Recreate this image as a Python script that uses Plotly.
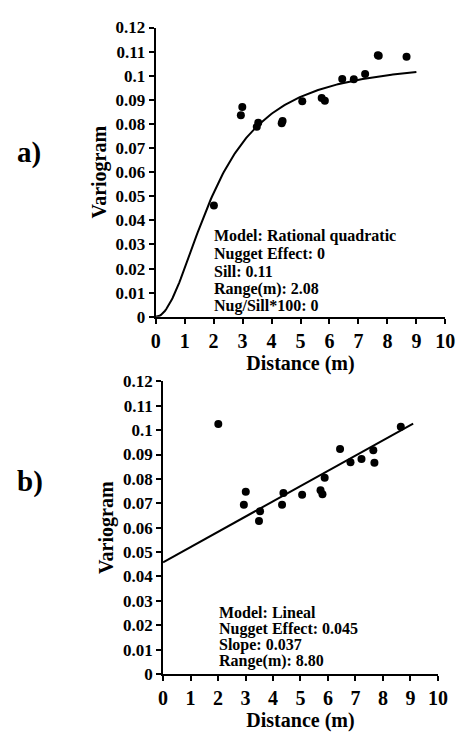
import numpy as np
import plotly.graph_objects as go

# ---- data a) ----
a_dist = [2.01, 2.94, 2.99, 3.49, 3.54, 4.35, 4.38, 5.06, 5.73, 5.84, 6.44, 6.84, 7.23, 7.67, 7.70, 8.66]
a_gamma = [0.0462, 0.0836, 0.0870, 0.0788, 0.0805, 0.0803, 0.0812, 0.0894, 0.0908, 0.0896,
           0.0986, 0.0985, 0.1007, 0.1085, 0.1083, 0.1079]
a_model_sill = 0.107
a_model_range = 2.08
a_model_xmax = 9.0
a_text = ["Model: Rational quadratic", "Nugget Effect: 0", "Sill: 0.11",
          "Range(m): 2.08", "Nug/Sill*100: 0"]

# ---- data b) ----
b_dist = [2.01, 2.94, 3.01, 3.49, 3.53, 4.33, 4.38, 5.06, 5.73, 5.80, 5.88, 6.44, 6.82, 7.22, 7.65, 7.69, 8.65]
b_gamma = [0.1025, 0.0694, 0.0747, 0.0627, 0.0667, 0.0694, 0.0742, 0.0735, 0.0754, 0.0737,
           0.0805, 0.0923, 0.0868, 0.0882, 0.0918, 0.0866, 0.1014]
b_line_x = [0.0, 9.1]
b_line_y = [0.0458, 0.1027]
b_text = ["Model: Lineal", "Nugget Effect: 0.045", "Slope: 0.037", "Range(m): 8.80"]

y_ticks = [0, 0.01, 0.02, 0.03, 0.04, 0.05, 0.06, 0.07, 0.08, 0.09, 0.1, 0.11, 0.12]
y_ticklabels = ["0", "0.01", "0.02", "0.03", "0.04", "0.05", "0.06", "0.07", "0.08", "0.09", "0.1", "0.11", "0.12"]
x_ticks = list(range(0, 11))

FONT = "Liberation Serif"
W, H = 466, 733

h = np.linspace(0, a_model_xmax, 200)
r = (h / a_model_range) ** 2
a_curve = a_model_sill * r / (1 + r)

fig = go.Figure()
fig.add_trace(go.Scatter(x=h, y=a_curve, mode="lines", line=dict(color="black", width=2),
                         xaxis="x", yaxis="y", cliponaxis=False, showlegend=False))
fig.add_trace(go.Scatter(x=a_dist, y=a_gamma, mode="markers", marker=dict(color="black", size=8),
                         xaxis="x", yaxis="y", cliponaxis=False, showlegend=False))
fig.add_trace(go.Scatter(x=b_line_x, y=b_line_y, mode="lines", line=dict(color="black", width=2),
                         xaxis="x2", yaxis="y2", cliponaxis=False, showlegend=False))
fig.add_trace(go.Scatter(x=b_dist, y=b_gamma, mode="markers", marker=dict(color="black", size=8),
                         xaxis="x2", yaxis="y2", cliponaxis=False, showlegend=False))

def xax(domain, anchor):
    return dict(domain=domain, anchor=anchor, range=[0, 10], tickvals=x_ticks,
                ticktext=["<b>%d</b>" % t for t in x_ticks],
                showline=True, linecolor="black", linewidth=2, ticks="outside", ticklen=5,
                tickwidth=2, tickcolor="black", showgrid=False, zeroline=False,
                tickfont=dict(family=FONT, size=20, color="black"),
                title=dict(text="<b>Distance (m)</b>", font=dict(family=FONT, size=20, color="black"),
                           standoff=3))

def yax(domain, anchor):
    return dict(domain=domain, anchor=anchor, range=[0, 0.12], tickvals=y_ticks,
                ticktext=["<b>%s</b>" % t for t in y_ticklabels],
                showline=True, linecolor="black", linewidth=2, ticks="outside", ticklen=5,
                tickwidth=2, tickcolor="black", showgrid=False, zeroline=False,
                tickfont=dict(family=FONT, size=17, color="black"),
                title=dict(text="<b>Variogram</b>", font=dict(family=FONT, size=20, color="black"),
                           standoff=4))

xa = xax([155.7 / W, 455 / W], "y")
ya = yax([1 - 316 / H, 1 - 19 / H], "x")
xb = xax([163.3 / W, 447.3 / W], "y2")
yb = yax([1 - 682.7 / H, 1 - 382.3 / H], "x2")

annotations = []
for i, t in enumerate(a_text):
    annotations.append(dict(x=214.3 / W, y=1 - (233.3 + 18 * i) / H, xref="paper", yref="paper",
                            text="<b>%s</b>" % t, showarrow=False, xanchor="left", yanchor="middle",
                            font=dict(family=FONT, size=16, color="black")))
for i, t in enumerate(b_text):
    annotations.append(dict(x=219 / W, y=1 - (619.3 + 16.7 * i) / H, xref="paper", yref="paper",
                            text="<b>%s</b>" % t, showarrow=False, xanchor="left", yanchor="middle",
                            font=dict(family=FONT, size=16, color="black")))
annotations.append(dict(x=10 / W, y=1 - 147 / H, xref="paper", yref="paper", text="<b>a)</b>",
                        showarrow=False, xanchor="left", yanchor="middle",
                        font=dict(family=FONT, size=29, color="black")))
annotations.append(dict(x=10 / W, y=1 - 485 / H, xref="paper", yref="paper", text="<b>b)</b>",
                        showarrow=False, xanchor="left", yanchor="middle",
                        font=dict(family=FONT, size=29, color="black")))

fig.update_layout(width=W, height=H, margin=dict(l=0, r=0, t=0, b=0),
                  paper_bgcolor="white", plot_bgcolor="white",
                  xaxis=xa, yaxis=ya, xaxis2=xb, yaxis2=yb, annotations=annotations)

fig.write_html("out.html")
